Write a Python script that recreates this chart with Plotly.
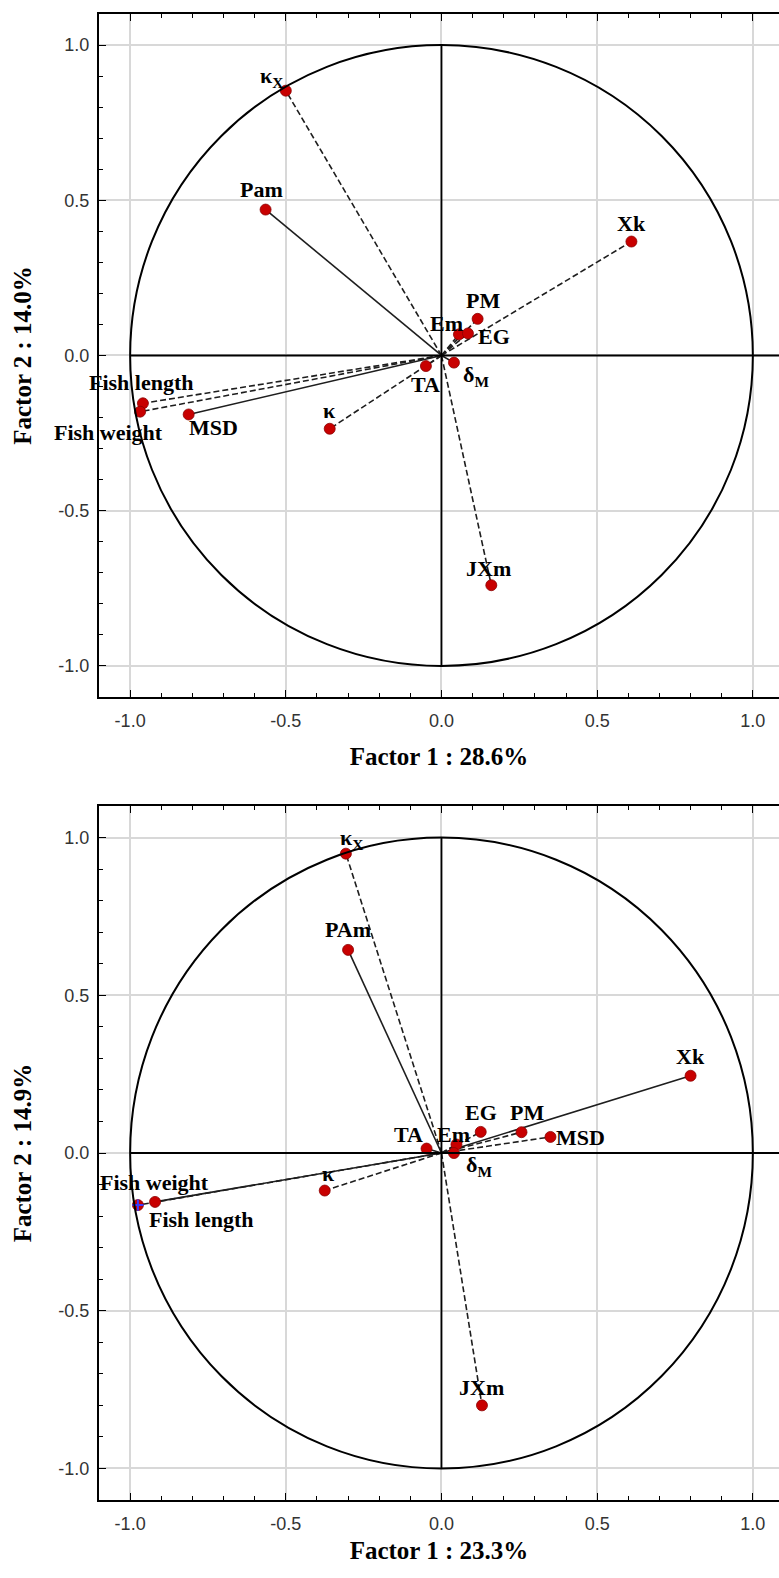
import plotly.graph_objects as go

# ---- Loadings, analysis 1 ----
names_1 = ["κ<sub>X</sub>", "Pam", "Xk", "PM", "Em", "EG", "δ<sub>M</sub>", "TA",
           "Fish length", "Fish weight", "MSD", "κ", "JXm"]
f1_1 = [-0.50, -0.565, 0.61, 0.116, 0.056, 0.085, 0.04, -0.05,
        -0.959, -0.968, -0.812, -0.359, 0.16]
f2_1 = [0.853, 0.47, 0.367, 0.118, 0.068, 0.071, -0.023, -0.034,
        -0.154, -0.181, -0.19, -0.236, -0.74]
var_1 = ("Factor 1 : 28.6%", "Factor 2 : 14.0%")

# ---- Loadings, analysis 2 ----
names_2 = ["κ<sub>X</sub>", "PAm", "Xk", "EG", "PM", "MSD", "Em", "TA", "δ<sub>M</sub>",
           "κ", "Fish weight", "Fish length", "JXm"]
f1_2 = [-0.307, -0.30, 0.80, 0.126, 0.257, 0.35, 0.048, -0.048, 0.04,
        -0.375, -0.975, -0.92, 0.13]
f2_2 = [0.949, 0.644, 0.245, 0.067, 0.066, 0.051, 0.027, 0.014, 0.0,
        -0.119, -0.165, -0.155, -0.80]
var_2 = ("Factor 1 : 23.3%", "Factor 2 : 14.9%")

tick_vals = [-1.0, -0.5, 0.0, 0.5, 1.0]
tick_text = ["-1.0", "-0.5", "0.0", "0.5", "1.0"]

# ---- styling (vector dash style and label offsets in px: dx right, dy down) ----
dash_1 = ["dash", "solid", "dash", "dash", "dash", "dash", "solid", "dash",
          "dash", "dash", "solid", "dash", "dash"]
off_1 = [(-14, -14), (-4, -20), (0, -18), (5, -18), (-12, -11), (26, 3), (22, 13),
         (0, 18), (-1, -21), (-32, 21), (25, 13), (0, -18), (-3, -17)]
dash_2 = ["dash", "solid", "solid", "dash", "dash", "dash", "dash", "solid", "dash",
          "dash", "dash", "solid", "dash"]
off_2 = [(6, -15), (0, -20), (0, -19), (0, -19), (5, -20), (30, 1), (-3, -10),
         (-18, -14), (25, 13), (4, -17), (17, -23), (46, 18), (0, -18)]

RED = "#c80000"
X_RANGE = [-1.1, 1.084]
Y_RANGE = [-1.1, 1.1]

fig = go.Figure()
shapes = []
annotations = []


def add_panel(names, fx, fy, dashes, offs, xa, ya):
    xref = "x" if xa == 1 else f"x{xa}"
    yref = "y" if ya == 1 else f"y{ya}"
    # unit circle and the two axes through the origin
    shapes.append(dict(type="circle", xref=xref, yref=yref, x0=-1, y0=-1, x1=1, y1=1,
                       line=dict(color="black", width=2), layer="above"))
    shapes.append(dict(type="line", xref=xref, yref=yref, x0=-1, y0=0, x1=X_RANGE[1], y1=0,
                       line=dict(color="black", width=1.8), layer="above"))
    shapes.append(dict(type="line", xref=xref, yref=yref, x0=0, y0=-1, x1=0, y1=1,
                       line=dict(color="black", width=1.8), layer="above"))
    # vectors from the origin
    for x, y, d in zip(fx, fy, dashes):
        fig.add_trace(go.Scatter(
            x=[0, x], y=[0, y], mode="lines", xaxis=xref, yaxis=yref,
            line=dict(color="#1e1e1e", width=1.6,
                      dash="6px,3px" if d == "dash" else "solid"),
            hoverinfo="skip", showlegend=False))
    fig.add_trace(go.Scatter(
        x=fx, y=fy, mode="markers", xaxis=xref, yaxis=yref,
        marker=dict(color=RED, size=11, line=dict(color="#8a0000", width=0.8)),
        text=names, hoverinfo="text", showlegend=False))
    for n, x, y, (dx, dy) in zip(names, fx, fy, offs):
        annotations.append(dict(
            x=x, y=y, xref=xref, yref=yref, text=f"<b>{n}</b>", showarrow=False,
            xshift=dx, yshift=-dy, xanchor="center", yanchor="middle",
            font=dict(family="Liberation Serif, Times New Roman, serif", size=22,
                      color="black")))


add_panel(names_1, f1_1, f2_1, dash_1, off_1, 1, 1)
add_panel(names_2, f1_2, f2_2, dash_2, off_2, 2, 2)

# overlapping symbol at Fish weight in the second panel
fw = names_2.index("Fish weight")
fig.add_trace(go.Scatter(
    x=[f1_2[fw]], y=[f2_2[fw]], mode="markers", xaxis="x2", yaxis="y2",
    marker=dict(symbol="cross-thin", size=8, line=dict(color="#3a3aff", width=2)),
    hoverinfo="skip", showlegend=False))

tick_font = dict(family="Liberation Sans, Arial, sans-serif", size=18, color="#333333")
title_font = dict(family="Liberation Serif, Times New Roman, serif", size=25, color="black")


def x_axis(title, anchor, standoff):
    return dict(range=X_RANGE, domain=[0, 1], anchor=anchor,
                tickvals=tick_vals, ticktext=tick_text, tickfont=tick_font,
                ticks="inside", ticklen=7, tickwidth=1.3, tickcolor="black",
                minor=dict(dtick=0.1, tick0=0, ticks="inside", ticklen=4,
                           tickcolor="black", tickwidth=1, showgrid=False),
                showgrid=True, gridcolor="#d8d8d8", gridwidth=1.5, zeroline=False,
                showline=True, linecolor="black", linewidth=2, mirror="ticks",
                ticklabelstandoff=6,
                title=dict(text=f"<b>{title}</b>", font=title_font, standoff=standoff))


def y_axis(title, anchor, domain):
    return dict(range=Y_RANGE, domain=domain, anchor=anchor,
                tickvals=tick_vals, ticktext=tick_text, tickfont=tick_font,
                ticks="inside", ticklen=7, tickwidth=1.3, tickcolor="black",
                minor=dict(dtick=0.1, tick0=0, ticks="inside", ticklen=4,
                           tickcolor="black", tickwidth=1, showgrid=False),
                showgrid=True, gridcolor="#d8d8d8", gridwidth=1.5, zeroline=False,
                showline=True, linecolor="black", linewidth=2, mirror=False,
                ticklabelstandoff=4,
                title=dict(text=f"<b>{title}</b>", font=title_font, standoff=20))


fig.update_layout(
    width=779, height=1578,
    margin=dict(l=99, r=0, t=14, b=78),
    paper_bgcolor="white", plot_bgcolor="white",
    xaxis=x_axis(var_1[0], "y", 18),
    yaxis=y_axis(var_1[1], "x", [0.5404, 1.0]),
    xaxis2=x_axis(var_2[0], "y2", 9),
    yaxis2=y_axis(var_2[1], "x2", [0.0, 0.4670]),
    shapes=shapes,
    annotations=annotations,
    showlegend=False,
)

fig.write_html("out.html")
